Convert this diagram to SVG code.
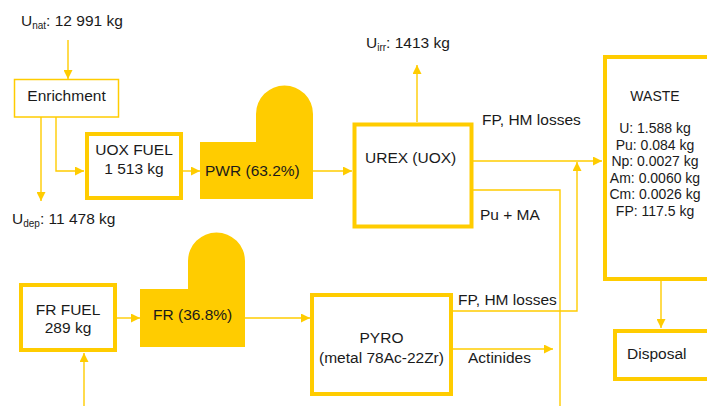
<svg xmlns="http://www.w3.org/2000/svg" width="707" height="406" viewBox="0 0 707 406">
<defs>
<style>
text{font-family:"Liberation Sans",Arial,sans-serif;fill:#1a1a1a;font-size:15.5px}
.c{text-anchor:middle}
.w{font-size:14px}
.box{fill:#fff;stroke:#FFCC00;stroke-width:4}
.thin{fill:#fff;stroke:#FFCC00;stroke-width:1.5}
.reactor{fill:#FFCC00}
.ln{fill:none;stroke:#FFCC00;stroke-width:1.4}
.a{marker-end:url(#ah)}
</style>
<marker id="ah" viewBox="0 0 10 10" refX="10" refY="5" markerWidth="9" markerHeight="9" markerUnits="userSpaceOnUse" orient="auto">
<path d="M0,0 L10,5 L0,10 z" fill="#FFCC00"/>
</marker>
</defs>
<rect width="707" height="406" fill="#fff"/>

<g id="connectors">
<line class="ln a" x1="68" y1="40" x2="68" y2="79"/>
<line class="ln a" x1="41" y1="117" x2="41" y2="201"/>
<path class="ln a" d="M56,117 V171 H84"/>
<line class="ln a" x1="183" y1="171" x2="200" y2="171"/>
<line class="ln a" x1="313" y1="171" x2="352" y2="171"/>
<line class="ln a" x1="417" y1="122" x2="417" y2="65"/>
<line class="ln a" x1="473" y1="161" x2="602" y2="161"/>
<path class="ln" d="M473,190 H560 V406"/>
<path class="ln a" d="M453,311 H577 V162"/>
<line class="ln a" x1="453" y1="349" x2="553" y2="349"/>
<line class="ln a" x1="661" y1="281" x2="661" y2="328"/>
<line class="ln a" x1="84" y1="406" x2="84" y2="353"/>
<line class="ln a" x1="117" y1="318" x2="140" y2="318"/>
<line class="ln a" x1="245" y1="318" x2="310" y2="318"/>
</g>

<g id="labels">
<text x="21" y="26">U<tspan font-size="10" dy="3">nat</tspan><tspan dy="-3">: 12 991 kg</tspan></text>
<text x="12" y="224">U<tspan font-size="10" dy="3">dep</tspan><tspan dy="-3">: 11 478 kg</tspan></text>
<text x="366" y="48">U<tspan font-size="10" dy="3">irr</tspan><tspan dy="-3">: 1413 kg</tspan></text>
<text x="482" y="125">FP, HM losses</text>
<text x="480" y="220">Pu + MA</text>
<text x="458" y="305">FP, HM losses</text>
<text x="468" y="363">Actinides</text>
</g>

<g id="enrichment">
<rect class="thin" x="14.5" y="79.5" width="104" height="37.5"/>
<text class="c" x="66.5" y="101">Enrichment</text>
</g>

<g id="uox-fuel">
<rect class="box" x="87" y="134" width="94" height="64"/>
<text class="c" x="134" y="155">UOX FUEL</text>
<text class="c" x="134" y="174">1 513 kg</text>
</g>

<g id="pwr">
<path class="reactor" d="M200,142 H256 V114 A28.5,28.5 0 0 1 313,114 V199 H200 Z"/>
<text x="205" y="176">PWR (63.2%)</text>
</g>

<g id="urex">
<rect class="box" x="354.5" y="124.5" width="117" height="102"/>
<text x="365" y="163">UREX (UOX)</text>
</g>

<g id="waste">
<rect class="box" x="605" y="57" width="120" height="222"/>
<text class="c w" x="655" y="101">WASTE</text>
<text class="c w" x="655" y="133">U: 1.588 kg</text>
<text class="c w" x="655" y="149.5">Pu: 0.084 kg</text>
<text class="c w" x="655" y="166">Np: 0.0027 kg</text>
<text class="c w" x="655" y="182.5">Am: 0.0060 kg</text>
<text class="c w" x="655" y="199">Cm: 0.0026 kg</text>
<text class="c w" x="655" y="215.5">FP: 117.5 kg</text>
</g>

<g id="disposal">
<rect class="box" x="615" y="331" width="110" height="48"/>
<text x="627" y="359">Disposal</text>
</g>

<g id="fr-fuel">
<rect class="box" x="21" y="285" width="94" height="65"/>
<text class="c" x="68" y="315">FR FUEL</text>
<text class="c" x="68" y="333">289 kg</text>
</g>

<g id="fr">
<path class="reactor" d="M140,289 H188 V261 A28.5,28.5 0 0 1 245,261 V347 H140 Z"/>
<text x="153" y="320">FR (36.8%)</text>
</g>

<g id="pyro">
<rect class="box" x="312" y="295" width="139" height="99"/>
<text class="c" x="381.5" y="343">PYRO</text>
<text class="c" x="381.5" y="363">(metal 78Ac-22Zr)</text>
</g>
</svg>
